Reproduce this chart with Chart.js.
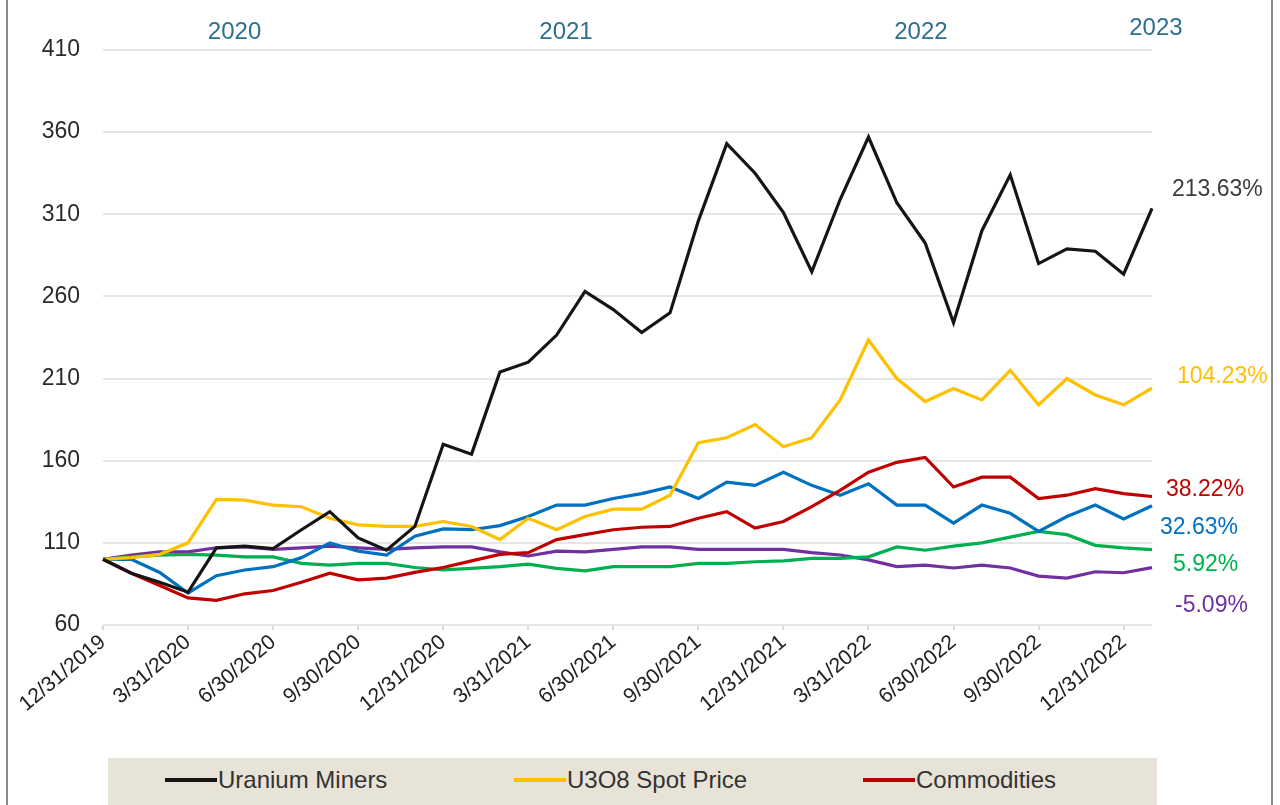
<!DOCTYPE html>
<html>
<head>
<meta charset="utf-8">
<script src="https://cdn.jsdelivr.net/npm/chart.js@4.4.0/dist/chart.umd.min.js"></script>
<style>
  html, body { margin: 0; padding: 0; background: #fff; overflow: hidden; }
  #wrap { position: relative; width: 1280px; height: 805px; font-family: "Liberation Sans", Arial, sans-serif; }
  #chart { position: absolute; left: 0; top: 0; }
  .edge { position: absolute; top: 0; width: 2px; height: 805px; background: #8a8a8a; }
  #legend { position: absolute; left: 108px; top: 758px; width: 1049px; height: 60px; background: #e8e3d7; }
  .item { position: absolute; top: 8px; display: flex; align-items: center; font-size: 24px; color: #333; white-space: nowrap; }
  .item span.line { display: inline-block; width: 52px; height: 4px; margin-right: 1px; }
</style>
</head>
<body>
<div id="wrap">
  <canvas id="chart" width="1280" height="805"></canvas>
  <div class="edge" style="left:6px"></div>
  <div class="edge" style="left:1271px"></div>
  <div id="legend"></div>
</div>
<script>
// month-end dates
const months = ['12/31/2019', '1/31/2020', '2/29/2020', '3/31/2020', '4/30/2020', '5/31/2020', '6/30/2020',
  '7/31/2020', '8/31/2020', '9/30/2020', '10/31/2020', '11/30/2020', '12/31/2020', '1/31/2021', '2/28/2021',
  '3/31/2021', '4/30/2021', '5/31/2021', '6/30/2021', '7/31/2021', '8/31/2021', '9/30/2021', '10/31/2021',
  '11/30/2021', '12/31/2021', '1/31/2022', '2/28/2022', '3/31/2022', '4/30/2022', '5/31/2022', '6/30/2022',
  '7/31/2022', '8/31/2022', '9/30/2022', '10/31/2022', '11/30/2022', '12/31/2022', '1/31/2023']

const uraniumMiners = [100, 91.5, 86, 80, 107, 108, 106.5, 118, 129, 113, 105.5, 120, 170, 164, 214, 220, 236.5,
  263, 252, 238, 250, 306, 353, 335, 311, 275, 319, 357, 317, 292.5, 244, 300, 334, 280, 289, 287.5, 273.5, 313.63]
const u3o8Spot = [100, 101, 103, 110, 136.5, 136, 133, 132, 125, 121, 120, 120, 123, 120, 112, 125, 118,
  126, 130.5, 130.5, 139, 171, 174, 182, 168.5, 174, 197, 233.5, 210, 196, 204, 197, 215, 194, 210, 200, 194, 204.23]
const commodities = [100, 91.5, 84, 76.5, 75, 79, 81, 86, 91.5, 87.5, 88.5, 92, 95, 99, 103, 104, 112,
  115, 118, 119.5, 120, 125, 129, 119, 123, 132, 142, 153, 159, 162, 144, 150, 150, 137, 139, 143, 140, 138.22]
const seriesBlue = [100, 100, 92, 79.5, 90, 93.5, 95.5, 101, 110, 105, 102.5, 114, 118.5, 118, 120.5, 126, 133,
  133, 137, 140, 144, 137, 147, 145, 153, 145, 139, 146, 133, 133, 122, 133, 128, 117, 126, 133, 124.5, 132.63]
const seriesGreen = [100, 101.5, 102.5, 103, 102.5, 101.5, 101.5, 97.5, 96.5, 97.5, 97.5, 95, 93.5, 94.5, 95.5, 97, 94.5,
  93, 95.5, 95.5, 95.5, 97.5, 97.5, 98.5, 99, 100.5, 100.5, 101.5, 107.5, 105.5, 108, 110, 113.5, 117, 115, 108.5, 107, 105.92]
const seriesPurple = [100, 102.5, 104.5, 104.5, 107, 107.5, 106, 107, 108, 107, 106, 107, 107.5, 107.5, 104.5, 102, 105,
  104.5, 106, 107.5, 107.5, 106, 106, 106, 106, 104, 102.6, 99.6, 95.5, 96.5, 94.7, 96.5, 94.7, 89.8, 88.6, 92.4, 91.8, 94.91]

const yTicks = [60, 110, 160, 210, 260, 310, 360, 410]
const yearLabels = ['2020', '2021', '2022', '2023']
const yearAt = [4.64, 16.33, 28.85, 37.14]
// where each end-of-line label sits (value units), so they don't overlap
const endLabelAt = [325, 211, 142.5, 119.5, 97, 72]

const font = '"Liberation Sans", Arial, sans-serif'

const datasets = [
  { label: 'Uranium Miners', data: uraniumMiners, borderColor: '#151515', end: '#3c3c3c', dx: 20, legend: true },
  { label: 'U3O8 Spot Price', data: u3o8Spot, borderColor: '#ffc000', end: '#ffc000', dx: 25, legend: true },
  { label: 'Commodities', data: commodities, borderColor: '#c00000', end: '#c00000', dx: 14, legend: true },
  { label: '', data: seriesBlue, borderColor: '#0070c0', end: '#0070c0', dx: 8 },
  { label: '', data: seriesGreen, borderColor: '#00b050', end: '#00b050', dx: 21 },
  { label: '', data: seriesPurple, borderColor: '#7030a0', end: '#7030a0', dx: 23 }
].map(d => Object.assign(d, { borderWidth: 3.2, pointRadius: 0, tension: 0, fill: false }))

// year captions above the plot + % change labels at the right
const extras = {
  id: 'extras',
  afterDatasetsDraw(chart) {
    const { ctx, chartArea, scales: { x, y } } = chart
    ctx.save()
    ctx.textBaseline = 'middle'
    ctx.font = `24px ${font}`
    ctx.fillStyle = '#2e6e8e'
    ctx.textAlign = 'center'
    yearLabels.forEach((t, i) => {
      ctx.fillText(t, x.getPixelForValue(yearAt[i]), i === 3 ? 28 : 32)
    })
    ctx.font = `23px ${font}`
    ctx.textAlign = 'left'
    chart.data.datasets.forEach((ds, i) => {
      const last = ds.data[ds.data.length - 1]
      const txt = (last - 100).toFixed(2) + '%'
      ctx.fillStyle = ds.end
      ctx.fillText(txt, chartArea.right + ds.dx, y.getPixelForValue(endLabelAt[i]))
    })
    ctx.restore()
  }
}

const chart = new Chart(document.getElementById('chart'), {
  type: 'line',
  data: { labels: months, datasets: datasets },
  options: {
    responsive: false,
    animation: false,
    devicePixelRatio: 1,
    layout: { padding: { left: 0, right: 128, top: 50, bottom: 0 } },
    plugins: { legend: { display: false }, tooltip: { enabled: false } },
    scales: {
      x: {
        offset: false,
        border: { display: false },
        grid: { display: true, drawOnChartArea: false, drawTicks: true, tickLength: 5, color: '#d9d9d9', lineWidth: 2 },
        ticks: {
          autoSkip: false, minRotation: 40, maxRotation: 40, padding: 0,
          color: '#222', font: { family: font, size: 21 },
          callback: (v, i) => (i % 3 === 0 ? months[i] : null)
        },
        afterFit: s => { s.height = 180 }
      },
      y: {
        min: 60, max: 410,
        border: { display: false },
        grid: { color: '#e6e6e6', lineWidth: 2, drawTicks: false },
        afterBuildTicks: s => { s.ticks = yTicks.map(v => ({ value: v })) },
        ticks: { padding: 23, color: '#2a2a2a', font: { family: font, size: 23 } },
        afterFit: s => { s.width = 103 }
      }
    }
  },
  plugins: [extras]
})

// legend strip (only the first row shows inside the picture)
const legend = document.getElementById('legend')
datasets.filter(d => d.legend).forEach((d, i) => {
  const item = document.createElement('div')
  item.className = 'item'
  item.style.left = (57 + 349 * i) + 'px'
  item.innerHTML = `<span class="line" style="background:${d.borderColor}"></span>${d.label}`
  legend.appendChild(item)
})
</script>
</body>
</html>
